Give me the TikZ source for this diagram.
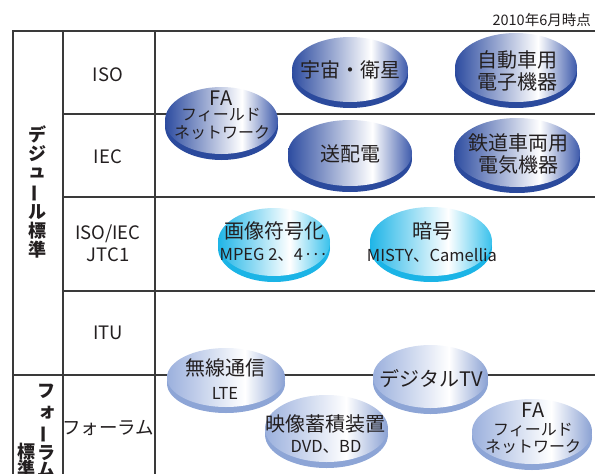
\documentclass[tikz,border=0pt]{standalone}
\usepackage{fontspec}
\setmainfont{Noto Sans CJK JP}
\usetikzlibrary{shapes.geometric}
\definecolor{txt}{HTML}{231F20}
\definecolor{gridc}{HTML}{3A3A3A}
\definecolor{dkL}{HTML}{2D4CA0}
\definecolor{dkR}{HTML}{3D5AAB}
\definecolor{dkRim}{HTML}{2B4A9D}
\definecolor{cyL}{HTML}{1FB5E7}
\definecolor{cyR}{HTML}{38C1EC}
\definecolor{cyRim}{HTML}{1BB4E6}
\definecolor{ltL}{HTML}{9BB0DD}
\definecolor{ltR}{HTML}{8AA1D3}
\definecolor{ltRim}{HTML}{8DA5D6}
\pgfdeclarehorizontalshading{darkdisc}{100bp}{color(0bp)=(dkL); color(25bp)=(dkL); color(59bp)=(white); color(75bp)=(dkR); color(100bp)=(dkR)}
\pgfdeclarehorizontalshading{cyandisc}{100bp}{color(0bp)=(cyL); color(25bp)=(cyL); color(57bp)=(white); color(75bp)=(cyR); color(100bp)=(cyR)}
\pgfdeclarehorizontalshading{lightdisc}{100bp}{color(0bp)=(ltL); color(25bp)=(ltL); color(58bp)=(white); color(75bp)=(ltR); color(100bp)=(ltR)}
\tikzset{
  gridline/.style={draw=gridc, line width=1.2pt},
  discbase/.style={ellipse, inner sep=0pt, draw=none},
  darkdisc/.style={discbase, shading=darkdisc, preaction={fill=dkRim, transform canvas={yshift=-6pt}}},
  cyandisc/.style={discbase, shading=cyandisc, preaction={fill=cyRim, transform canvas={yshift=-6pt}}},
  lightdisc/.style={discbase, shading=lightdisc, preaction={fill=ltRim, transform canvas={yshift=-6pt}}},
  big/.style={text=txt, inner sep=0pt, font=\fontsize{20}{22}\selectfont},
  mid/.style={text=txt, inner sep=0pt, font=\fontsize{16}{18}\selectfont},
  small/.style={text=txt, inner sep=0pt, font=\fontsize{16.5}{18}\selectfont},
  rowlab/.style={text=txt, inner sep=0pt, font=\fontsize{18.5}{22}\selectfont, align=center},
  vlab/.style={text=txt, inner sep=0pt, font=\bfseries\fontsize{18}{18}\selectfont},
}
\begin{document}
\begin{tikzpicture}[x=1pt,y=-1pt]
\useasboundingbox (0,0) rectangle (595,474);
% date
\node[text=txt, inner sep=0pt, anchor=east, font=\fontsize{14.5}{16}\selectfont] (date) at (591,20) {2010年6月時点};
% table
\draw[gridline] (13,474) -- (13,31) -- (595,31);
\draw[gridline] (63,31) -- (63,474);
\draw[gridline] (155,31) -- (155,474);
\draw[gridline] (63,114) -- (595,114);
\draw[gridline] (63,197) -- (595,197);
\draw[gridline] (63,291) -- (595,291);
\draw[gridline] (13,375) -- (595,375);
% row labels
\node[rowlab] (rISO) at (108,75) {ISO};
\node[rowlab] (rIEC) at (108,157) {IEC};
\node[rowlab] (rJTC) at (108,243) {ISO/IEC\\JTC1};
\node[rowlab] (rITU) at (108,333) {ITU};
\node[rowlab] (rFor) at (108,428) {フォーラム};
% vertical labels
\node[vlab] (v1) at (37,134) {デ};
\node[vlab] (v2) at (37,154) {ジ};
\node[vlab] (v3) at (37,173) {ュ};
\node[vlab, rotate=90] (v4) at (37,193) {ー};
\node[vlab] (v5) at (37,212) {ル};
\node[vlab] (v6) at (37,231) {標};
\node[vlab] (v7) at (37,250) {準};
\node[vlab] (f1) at (46,391) {フ};
\node[vlab] (f2) at (47,413) {ォ};
\node[vlab, rotate=90] (f3) at (46,434) {ー};
\node[vlab] (f4) at (46,453) {ラ};
\node[vlab] (f5) at (46,470) {ム};
\node[vlab] (s1) at (26,452) {標};
\node[vlab] (s2) at (26,469) {準};
% dark discs
\node[darkdisc, minimum width=113pt, minimum height=67pt] (fa1) at (221.5,120.5) {};
\node[mid, font=\fontsize{20}{22}\selectfont] (fa1a) at (221,98) {FA};
\node[mid] (fa1b) at (221,115) {フィールド};
\node[mid] (fa1c) at (222,133) {ネットワーク};
\node[darkdisc, minimum width=116pt, minimum height=65pt] (space) at (350,69.5) {};
\node[big] (spacet) at (350,70) {宇宙・衛星};
\node[darkdisc, minimum width=124pt, minimum height=66pt] (power) at (350,153) {};
\node[big] (powert) at (350,154) {送配電};
\node[darkdisc, minimum width=122pt, minimum height=69pt] (auto) at (516,67.5) {};
\node[big, align=center] (autot) at (517,71) {自動車用\\電子機器};
\node[darkdisc, minimum width=126pt, minimum height=69pt] (rail) at (517,152.5) {};
\node[big, align=center] (railt) at (518,154) {鉄道車両用\\電気機器};
% cyan discs
\node[cyandisc, minimum width=112pt, minimum height=68pt] (img) at (274,242) {};
\node[big] (imga) at (274,231) {画像符号化};
\node[small] (imgb) at (274,255) {MPEG 2、4\kern0.5pt·\kern-1.5pt·\kern-1.5pt·};
\node[cyandisc, minimum width=122pt, minimum height=69pt] (cry) at (431,241.5) {};
\node[big] (crya) at (432,231) {暗号};
\node[small] (cryb) at (432,255) {MISTY、Camellia};
% light discs
\node[lightdisc, minimum width=118pt, minimum height=59pt] (wl) at (226,377.5) {};
\node[big] (wla) at (225,368) {無線通信};
\node[small] (wlb) at (225,393) {LTE};
\node[lightdisc, minimum width=123pt, minimum height=67pt] (stor) at (326.5,428.5) {};
\node[big] (stora) at (325,424) {映像蓄積装置};
\node[small] (storb) at (326,447) {DVD、BD};
\node[lightdisc, minimum width=115pt, minimum height=63pt] (tv) at (430.5,376.5) {};
\node[big] (tvt) at (431,379) {デジタルTV};
\node[lightdisc, minimum width=120pt, minimum height=65pt] (fa2) at (532,431.5) {};
\node[mid, font=\fontsize{20}{22}\selectfont] (fa2a) at (533,410) {FA};
\node[mid] (fa2b) at (533,430) {フィールド};
\node[mid] (fa2c) at (533,447) {ネットワーク};
\end{tikzpicture}
\end{document}
